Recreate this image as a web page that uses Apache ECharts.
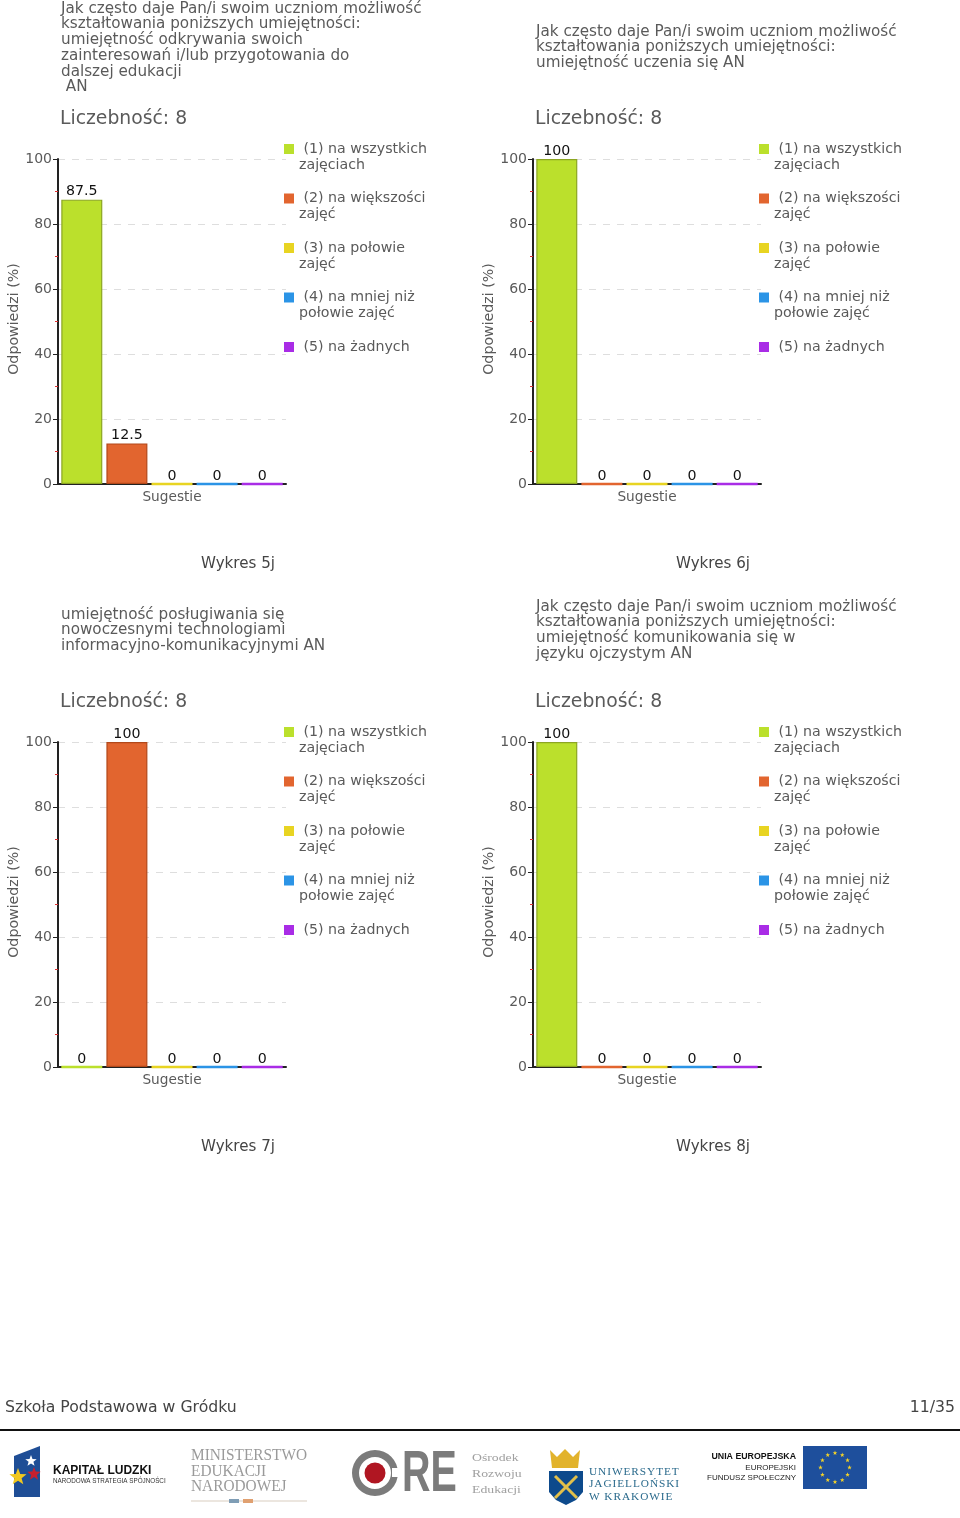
<!DOCTYPE html>
<html><head><meta charset="utf-8">
<style>html,body{margin:0;padding:0;background:#fff}#c{width:960px;height:1518px}</style>
<script src="https://cdn.jsdelivr.net/npm/echarts@6/dist/echarts.min.js"></script>
</head><body><div id="c"></div>
<script>
const categories = ['Sugestie'];
const seriesNames = ['(1) na wszystkich zajęciach','(2) na większości zajęć','(3) na połowie zajęć','(4) na mniej niż połowie zajęć','(5) na żadnych'];
const legendLines = {
  '(1) na wszystkich zajęciach':[' (1) na wszystkich','zajęciach'],
  '(2) na większości zajęć':[' (2) na większości','zajęć'],
  '(3) na połowie zajęć':[' (3) na połowie','zajęć'],
  '(4) na mniej niż połowie zajęć':[' (4) na mniej niż','połowie zajęć'],
  '(5) na żadnych':[' (5) na żadnych',' ']
};
const seriesColors = ['#BBE02C','#E2652F','#E8D422','#2B94E6','#A92CE6'];
const borderColors = ['#8CA622','#B2481A','#BFA915','#1B5F9E','#6E1A99'];
const values5j = [87.5,12.5,0,0,0];
const values6j = [100,0,0,0,0];
const values7j = [0,100,0,0,0];
const values8j = [100,0,0,0,0];
const chartValues = [values5j,values6j,values7j,values8j];
const yTicks = {min:0,max:100,interval:20};
const titles = [
 ['Jak często daje Pan/i swoim uczniom możliwość','kształtowania poniższych umiejętności:','umiejętność odkrywania swoich','zainteresowań i/lub przygotowania do','dalszej edukacji',' AN'],
 ['Jak często daje Pan/i swoim uczniom możliwość','kształtowania poniższych umiejętności:','umiejętność uczenia się AN'],
 ['umiejętność posługiwania się','nowoczesnymi technologiami','informacyjno-komunikacyjnymi AN'],
 ['Jak często daje Pan/i swoim uczniom możliwość','kształtowania poniższych umiejętności:','umiejętność komunikowania się w','języku ojczystym AN']
];
const titleTops = [1,24,607,599];
const countLabel = 'Liczebność: 8';
const captions = ['Wykres 5j','Wykres 6j','Wykres 7j','Wykres 8j'];
const footerLeft = 'Szkoła Podstawowa w Gródku';
const footerRight = '11/35';

const FONT = '"DejaVu Sans", Verdana, sans-serif';
const GREY = '#5a5a5a';
const pos = [{x:58,y:159},{x:533,y:159},{x:58,y:742},{x:533,y:742}];
const grid=[],xAxis=[],yAxis=[],series=[],legend=[],title=[],graphic=[];

pos.forEach((p,i)=>{
  grid.push({left:p.x,top:p.y,width:228,height:325,containLabel:false});
  xAxis.push({type:'category',gridIndex:i,data:categories,
    axisLine:{lineStyle:{color:'#222',width:2}},
    axisTick:{alignWithLabel:true,length:5,lineStyle:{color:'#222'}},
    axisLabel:{color:GREY,fontFamily:FONT,fontSize:13.7,margin:6}});
  yAxis.push({type:'value',gridIndex:i,min:yTicks.min,max:yTicks.max,interval:yTicks.interval,
    name:'Odpowiedzi (%)',nameLocation:'middle',nameGap:37,nameRotate:90,
    nameTextStyle:{color:GREY,fontFamily:FONT,fontSize:14.2,padding:[0,0,0,5]},
    axisLine:{show:true,lineStyle:{color:'#222',width:2}},
    axisTick:{show:true,length:5,lineStyle:{color:'#222'}},
    minorTick:{show:true,splitNumber:2,length:3,lineStyle:{color:'#d33'}},
    axisLabel:{color:GREY,fontFamily:FONT,fontSize:14,margin:6,padding:[2,0,0,0]},
    splitLine:{show:true,lineStyle:{color:'#dedede',type:[7,7]}}});
  seriesNames.forEach((n,k)=>{
    const v=chartValues[i][k];
    series.push({
      type:'bar',name:n,xAxisIndex:i,yAxisIndex:i,
      data:[{value:v,itemStyle:{borderWidth:v===0?2.5:1.2},label:{distance:v===0?-1:1}}],
      barWidth:41,barGap:'10%',z:3,
      itemStyle:{color:seriesColors[k],borderColor:v===0?seriesColors[k]:borderColors[k]},
      label:{show:true,position:'top',color:'#111',fontFamily:FONT,fontSize:14.2},
      animation:false});
  });
  legend.push({orient:'vertical',left:p.x+226,top:p.y-34,padding:0,itemGap:1.5,itemWidth:10,itemHeight:10,
    icon:'rect',data:seriesNames,selectedMode:false,
    itemStyle:{borderWidth:0},
    formatter:n=>' \n'+legendLines[n].join('\n'),
    textStyle:{color:GREY,fontFamily:FONT,fontSize:14.2,lineHeight:16}});
  title.push({text:titles[i].join('\n'),left:p.x+3,top:titleTops[i],padding:0,
    textStyle:{color:GREY,fontFamily:FONT,fontSize:15.2,fontWeight:'normal',lineHeight:15.7}});
  title.push({text:countLabel,left:p.x+2,top:p.y-50,padding:0,
    textStyle:{color:GREY,fontFamily:FONT,fontSize:18.8,fontWeight:'normal',lineHeight:20}});
  title.push({text:captions[i],left:p.x+143,top:p.y+398,padding:0,
    textStyle:{color:'#444',fontFamily:FONT,fontSize:15.1,fontWeight:'normal'}});
});

const T=(x,y,text,size,fill,o={})=>({type:'text',x,y,scaleX:o.sx||1,silent:true,style:{text,fontSize:size,fontFamily:o.ff||FONT,fontWeight:o.w||'normal',fill,textAlign:o.a||'left',verticalAlign:'middle'}});
const SERIF='"Liberation Serif", serif', SANS='"Liberation Sans", sans-serif';
const star=(cx,cy,r)=>{const pts=[];for(let j=0;j<10;j++){const a=-Math.PI/2+j*Math.PI/5,q=j%2?r*0.42:r;pts.push([cx+q*Math.cos(a),cy+q*Math.sin(a)]);}return pts;};
const poly=(points,fill)=>({type:'polygon',silent:true,shape:{points},style:{fill}});

graphic.push(T(5,1408,footerLeft,15.7,'#444'));
graphic.push(T(955,1408,footerRight,15.7,'#444',{a:'right'}));
graphic.push({type:'rect',silent:true,shape:{x:0,y:1429,width:960,height:2},style:{fill:'#111'}});
// Kapitał Ludzki
graphic.push(poly([[14,1456],[40,1446],[40,1497],[14,1497]],'#1f4e96'));
graphic.push(poly(star(31,1461,6),'#fff'));
graphic.push(poly(star(34,1474,7),'#c8202f'));
graphic.push(poly(star(18,1477,9),'#f1c81f'));
graphic.push(T(53,1471,'KAPITAŁ LUDZKI',12,'#111',{ff:SANS,w:'bold'}));
graphic.push(T(53,1481,'NARODOWA STRATEGIA SPÓJNOŚCI',6.3,'#333',{ff:SANS}));
// MEN
['MINISTERSTWO','EDUKACJI','NARODOWEJ'].forEach((t,j)=>graphic.push(T(191,1456+j*15.5,t,16,'#9a9a9a',{ff:SERIF,sx:0.96})));
graphic.push({type:'rect',silent:true,shape:{x:191,y:1500.5,width:116,height:1},style:{fill:'#d9cdbf'}});
graphic.push({type:'rect',silent:true,shape:{x:229,y:1499,width:10,height:4},style:{fill:'#7f9db5'}});
graphic.push({type:'rect',silent:true,shape:{x:243,y:1499,width:10,height:4},style:{fill:'#e0a070'}});
// ORE
graphic.push({type:'ring',silent:true,shape:{cx:375,cy:1473,r:23,r0:16},style:{fill:'#7b7b7b'}});
graphic.push({type:'rect',silent:true,shape:{x:392,y:1468,width:10,height:9},style:{fill:'#fff'}});
graphic.push({type:'circle',silent:true,shape:{cx:375,cy:1473,r:10.5},style:{fill:'#b01622'}});
graphic.push(T(402,1475,'RE',58,'#7b7b7b',{ff:SANS,w:'bold',sx:0.68}));
[['Ośrodek',1458],['Rozwoju',1474],['Edukacji',1490]].forEach(a=>graphic.push(T(472,a[1],a[0],11,'#a0a0a0',{ff:SERIF,sx:1.25})));
// UJ
graphic.push(poly([[550,1450],[557,1457],[565,1449],[573,1457],[580,1450],[578,1468],[552,1468]],'#e2b32c'));
graphic.push(poly([[549,1471],[583,1471],[583,1492],[576,1500],[566,1505],[556,1500],[549,1492]],'#0d4a8c'));
graphic.push({type:'line',silent:true,shape:{x1:555,y1:1476,x2:577,y2:1498},style:{stroke:'#e2c04a',lineWidth:3}});
graphic.push({type:'line',silent:true,shape:{x1:577,y1:1476,x2:555,y2:1498},style:{stroke:'#e2c04a',lineWidth:3}});
[['UNIWERSYTET',1472],['JAGIELLOŃSKI',1484.5],['W KRAKOWIE',1497]].forEach(a=>graphic.push(T(589,a[1],a[0].split('').join('\u200a'),11.3,'#2a6a8c',{ff:SERIF})));
// EU
graphic.push(T(796,1457,'UNIA EUROPEJSKA',8.8,'#111',{ff:SANS,w:'bold',a:'right'}));
graphic.push(T(796,1468,'EUROPEJSKI',8,'#222',{ff:SANS,a:'right'}));
graphic.push(T(796,1478,'FUNDUSZ SPOŁECZNY',8,'#222',{ff:SANS,a:'right'}));
graphic.push({type:'rect',silent:true,shape:{x:803,y:1446,width:64,height:43},style:{fill:'#1e4f9c'}});
for(let j=0;j<12;j++){const a=j*Math.PI/6;graphic.push(poly(star(835+14.5*Math.cos(a),1467.5+14.5*Math.sin(a),2.4),'#f5d327'));}

const chart=echarts.init(document.getElementById('c'),null,{renderer:'canvas'});
chart.setOption({animation:false,backgroundColor:'#fff',grid,xAxis,yAxis,series,legend,title,graphic});
</script></body></html>
